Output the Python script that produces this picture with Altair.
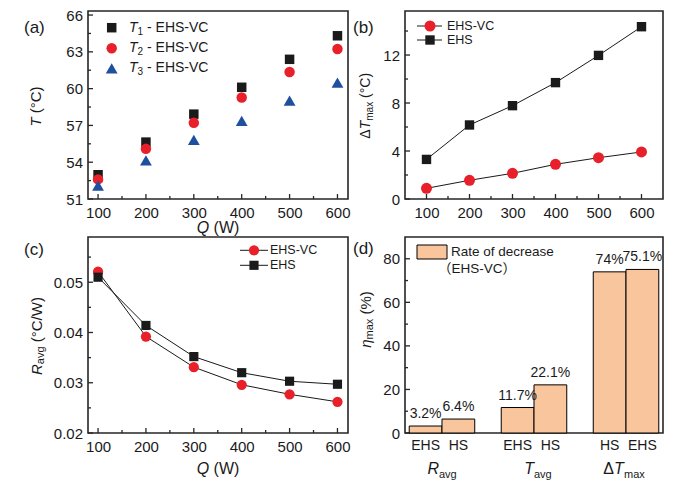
import altair as alt
import pandas as pd

# ---------------- data ----------------
Q = [100, 200, 300, 400, 500, 600]
Q_MINOR = [150, 250, 350, 450, 550]

T1_VC = [52.98, 55.64, 57.92, 60.11, 62.39, 64.31]
T2_VC = [52.60, 55.09, 57.21, 59.27, 61.36, 63.23]
T3_VC = [52.10, 54.14, 55.83, 57.37, 59.02, 60.49]

DT_VC = [0.89, 1.56, 2.14, 2.89, 3.44, 3.92]
DT_EHS = [3.30, 6.17, 7.78, 9.70, 11.97, 14.36]

R_VC = [0.0521, 0.0392, 0.0331, 0.0296, 0.0277, 0.0262]
R_EHS = [0.0510, 0.0414, 0.0352, 0.0320, 0.0303, 0.0297]

BAR_GROUP = ["Ravg", "Ravg", "Tavg", "Tavg", "DTmax", "DTmax"]
BAR_SLOT = ["1", "2", "1", "2", "1", "2"]
BAR_NAME = ["EHS", "HS", "EHS", "HS", "HS", "EHS"]
BAR_VAL = [3.2, 6.4, 11.7, 22.1, 74.0, 75.1]
BAR_TXT = ["3.2%", "6.4%", "11.7%", "22.1%", "74%", "75.1%"]
GROUPS = ["Ravg", "Tavg", "DTmax"]

A_Y = [51, 54, 57, 60, 63, 66]
A_YM = [52.5, 55.5, 58.5, 61.5, 64.5]
B_Y = [0, 4, 8, 12]
B_YM = [2, 6, 10, 14]
C_Y = [0.02, 0.03, 0.04, 0.05]
C_YM = [0.025, 0.035, 0.045, 0.055]
D_Y = [0, 20, 40, 60, 80]
D_YM = [10, 30, 50, 70]

# ---------------- style ----------------
FONT = "Liberation Sans, Arial, Helvetica, sans-serif"
CJK = "Liberation Sans, Noto Sans CJK SC, sans-serif"
INK = "#1a1a1a"
AX = "#262626"
RED = "#e8202a"
BLUE = "#1f4f9f"
PEACH = "#f9c59c"

W1, W2 = 260, 258
H1, H2 = 188, 196

EM = {" ": .278, "(": .333, ")": .333, "°": .4, "C": .722, "W": .944, "/": .278,
      "%": .889, "T": .611, "R": .722, "Q": .778, "Δ": .668, "η": .556, "a": .556,
      "v": .5, "g": .556, "m": .833, "x": .5, "1": .556, "2": .556, "3": .556,
      "-": .333, "E": .667, "H": .722, "S": .667, "V": .667}


def tw(s, size):
    return sum(EM.get(c, .556) for c in s) * size


def label(s, x, y, size, italic=False, angle=0, align="left", baseline="middle",
          dx=0, dy=0, font=FONT):
    props = dict(font=font, fontSize=size, align=align, baseline=baseline, color=INK)
    if italic:
        props["fontStyle"] = "italic"
    if angle:
        props["angle"] = angle
    if dx:
        props["dx"] = dx
    if dy:
        props["dy"] = dy
    return alt.Chart(pd.DataFrame({"t": [s]})).mark_text(**props).encode(
        x=alt.value(x), y=alt.value(y), text="t:N")


def rich(parts, x, y, vertical=False, start=False):
    total = sum(tw(p[0], p[1]) for p in parts)
    out, cum = [], 0.0
    for s, size, it, sh in parts:
        lead = len(s) - len(s.lstrip(" "))
        off = cum + tw(" " * lead, size)
        body = s.lstrip(" ")
        if vertical:
            out.append(label(body, x, y + total / 2, size, it, angle=270,
                             dx=round(off, 1), dy=sh))
        else:
            x0 = x if start else x - total / 2
            out.append(label(body, x0, y, size, it, dx=round(off, 1), dy=sh))
        cum += tw(s, size)
    return out


def ticks_y(vals, scale, length, xax, yax):
    return alt.Chart(pd.DataFrame({"v": vals})).mark_rule(color=AX, strokeWidth=1.3).encode(
        y=alt.Y("v:Q", scale=scale, axis=yax), x=alt.value(0), x2=alt.value(length))


def ticks_x(vals, scale, length, h, xax):
    return alt.Chart(pd.DataFrame({"v": vals})).mark_rule(color=AX, strokeWidth=1.3).encode(
        x=alt.X("v:Q", scale=scale, axis=xax), y=alt.value(h), y2=alt.value(h - length))


def pts(xs, ys, xs_scale, ys_scale, shape, color, size, xax, yax):
    return alt.Chart(pd.DataFrame({"q": xs, "v": ys})).mark_point(
        shape=shape, filled=True, size=size, color=color, opacity=1, strokeWidth=0).encode(
        x=alt.X("q:Q", scale=xs_scale, axis=xax),
        y=alt.Y("v:Q", scale=ys_scale, axis=yax))


def line(xs, ys, xs_scale, ys_scale, xax, yax):
    return alt.Chart(pd.DataFrame({"q": xs, "v": ys})).mark_line(color=INK, strokeWidth=1).encode(
        x=alt.X("q:Q", scale=xs_scale, axis=xax),
        y=alt.Y("v:Q", scale=ys_scale, axis=yax))


def sym(x, y, shape, color, size):
    return alt.Chart(pd.DataFrame({"t": [0]})).mark_point(
        shape=shape, filled=True, size=size, color=color, opacity=1, strokeWidth=0).encode(
        x=alt.value(x), y=alt.value(y))


def seg(x1, x2, y):
    return alt.Chart(pd.DataFrame({"t": [0]})).mark_rule(color=INK, strokeWidth=1).encode(
        x=alt.value(x1), x2=alt.value(x2), y=alt.value(y))


QAX = alt.Axis(values=Q, title=None, format="d")

# ---------------- panel (a) ----------------
XA = alt.Scale(domain=[79, 622], nice=False, zero=False)
YA = alt.Scale(domain=[51, 66.33], nice=False, zero=False)
YAX_A = alt.Axis(values=A_Y, title=None, format="d")
layers_a = [
    ticks_y(A_Y, YA, 5, QAX, YAX_A), ticks_y(A_YM, YA, 3, QAX, YAX_A),
    ticks_x(Q, XA, 5, H1, QAX), ticks_x(Q_MINOR, XA, 3, H1, QAX),
    pts(Q, T1_VC, XA, YA, "square", INK, 90, QAX, YAX_A),
    pts(Q, T2_VC, XA, YA, "circle", RED, 110, QAX, YAX_A),
    pts(Q, T3_VC, XA, YA, "triangle-up", BLUE, 140, QAX, YAX_A),
    sym(23.7, 16.7, "square", INK, 90),
    sym(23.7, 37.3, "circle", RED, 110),
    sym(23.7, 57.3, "triangle-up", BLUE, 140),
    label("(a)", -64, 17, 17),
]
for i, yy in zip(["1", "2", "3"], [16.7, 37.3, 57.3]):
    layers_a += rich([("T", 14, True, 0), (i, 10, False, 4), (" - EHS-VC", 14, False, 0)],
                     41, yy, start=True)
layers_a += rich([("T", 15, True, 0), (" (°C)", 15, False, 0)], -52, 95.5, vertical=True)
layers_a += rich([("Q", 16, True, 0), (" (W)", 16, False, 0)], W1 / 2, 217)
panel_a = alt.layer(*layers_a).properties(width=W1, height=H1)

# ---------------- panel (b) ----------------
XB = alt.Scale(domain=[50, 650], nice=False, zero=False)
YB = alt.Scale(domain=[0, 15.67], nice=False, zero=False)
YAX_B = alt.Axis(values=B_Y, title=None, format="d")
layers_b = [
    ticks_y(B_Y, YB, 5, QAX, YAX_B), ticks_y(B_YM, YB, 3, QAX, YAX_B),
    ticks_x(Q, XB, 5, H1, QAX), ticks_x(Q_MINOR, XB, 3, H1, QAX),
    line(Q, DT_VC, XB, YB, QAX, YAX_B), line(Q, DT_EHS, XB, YB, QAX, YAX_B),
    pts(Q, DT_VC, XB, YB, "circle", RED, 121, QAX, YAX_B),
    pts(Q, DT_EHS, XB, YB, "square", INK, 88, QAX, YAX_B),
    seg(12, 37, 15), sym(25, 15, "circle", RED, 121),
    seg(12, 37, 29), sym(25, 29, "square", INK, 88),
    label("EHS-VC", 42, 15, 12.5), label("EHS", 42, 29, 12.5),
    label("(b)", -52, 17, 17),
]
layers_b += rich([("Δ", 14, False, 0), ("T", 14, True, 0), ("max", 10, False, 4),
                  (" (°C)", 14, False, 0)], -39, 94.8, vertical=True)
panel_b = alt.layer(*layers_b).properties(width=W2, height=H1)

# ---------------- panel (c) ----------------
XC = alt.Scale(domain=[79, 622], nice=False, zero=False)
YC = alt.Scale(domain=[0.02, 0.059], nice=False, zero=False)
YAX_C = alt.Axis(values=C_Y, title=None, format=".2f")
layers_c = [
    ticks_y(C_Y, YC, 5, QAX, YAX_C), ticks_y(C_YM, YC, 3, QAX, YAX_C),
    ticks_x(Q, XC, 5, H2, QAX), ticks_x(Q_MINOR, XC, 3, H2, QAX),
    line(Q, R_VC, XC, YC, QAX, YAX_C), line(Q, R_EHS, XC, YC, QAX, YAX_C),
    pts(Q, R_VC, XC, YC, "circle", RED, 105, QAX, YAX_C),
    pts(Q, R_EHS, XC, YC, "square", INK, 84, QAX, YAX_C),
    seg(152, 180, 13.3), sym(166, 13.3, "circle", RED, 105),
    seg(152, 180, 28.3), sym(166, 28.3, "square", INK, 84),
    label("EHS-VC", 182, 13.3, 12.5), label("EHS", 182, 28.3, 12.5),
    label("(c)", -64, 13, 17),
]
layers_c += rich([("R", 15, True, 0), ("avg", 11, False, 4), (" (°C/W)", 15, False, 0)],
                 -51, 99, vertical=True)
layers_c += rich([("Q", 16, True, 0), (" (W)", 16, False, 0)], W1 / 2, 232)
panel_c = alt.layer(*layers_c).properties(width=W1, height=H2)

# ---------------- panel (d) ----------------
XD = alt.Scale(type="band", domain=GROUPS, paddingInner=0.288, paddingOuter=0.046)
XO = alt.Scale(domain=["1", "2"])
YD = alt.Scale(domain=[0, 90], nice=False, zero=False)
YAX_D = alt.Axis(values=D_Y, title=None, format="d")
df_d = pd.DataFrame({"g": BAR_GROUP, "s": BAR_SLOT, "n": BAR_NAME, "v": BAR_VAL, "t": BAR_TXT})
bars = alt.Chart(df_d).mark_bar(color=PEACH, stroke="black", strokeWidth=1, opacity=1).encode(
    x=alt.X("g:N", scale=XD, axis=None),
    xOffset=alt.XOffset("s:N", scale=XO),
    y=alt.Y("v:Q", scale=YD, axis=YAX_D))
val_txt = alt.Chart(df_d).mark_text(font=FONT, fontSize=14, color=INK, dy=-12).encode(
    x=alt.X("g:N", scale=XD, axis=None), xOffset=alt.XOffset("s:N", scale=XO),
    y=alt.Y("v:Q", scale=YD, axis=YAX_D), text="t:N")
name_txt = alt.Chart(df_d).mark_text(font=FONT, fontSize=14, color=INK).encode(
    x=alt.X("g:N", scale=XD, axis=None), xOffset=alt.XOffset("s:N", scale=XO),
    y=alt.value(209), text="n:N")


def gpart(g, s, size, italic, align, dx, y):
    props = dict(font=FONT, fontSize=size, color=INK, align=align, baseline="alphabetic", dx=dx)
    if italic:
        props["fontStyle"] = "italic"
    return alt.Chart(pd.DataFrame({"g": [g], "t": [s]})).mark_text(**props).encode(
        x=alt.X("g:N", scale=XD, axis=None), y=alt.value(y), text="t:N")


layers_d = [
    ticks_y(D_Y, YD, 5, None, YAX_D), ticks_y(D_YM, YD, 3, None, YAX_D),
    bars, val_txt, name_txt,
    gpart("Ravg", "R", 16, True, "right", -3, 237),
    gpart("Ravg", "avg", 11, False, "left", -3, 241),
    gpart("Tavg", "T", 16, True, "right", 0, 237),
    gpart("Tavg", "avg", 11, False, "left", 0, 241),
    gpart("DTmax", "Δ", 16, False, "right", -12, 237),
    gpart("DTmax", "T", 16, True, "left", -12, 237),
    gpart("DTmax", "max", 11, False, "left", -2, 241),
    alt.Chart(pd.DataFrame({"t": [0]})).mark_rect(color=PEACH, stroke="black", strokeWidth=1).encode(
        x=alt.value(12), x2=alt.value(42), y=alt.value(8), y2=alt.value(22)),
    label("Rate of decrease", 46, 15, 13.5),
    label("（EHS-VC）", 33, 31.7, 13.5, font=CJK),
    label("(d)", -52, 12, 17),
]
layers_d += rich([("η", 15, True, 0), ("max", 11, False, 4), (" (%)", 15, False, 0)],
                 -39, 82.5, vertical=True)
panel_d = alt.layer(*layers_d).properties(width=W2, height=H2)

# ---------------- layout ----------------
chart = alt.concat(
    panel_a, panel_b, panel_c, panel_d,
    columns=2, bounds="flush", spacing={"row": 38, "column": 57},
).configure(
    padding={"left": 15, "top": -1, "right": 4, "bottom": 0},
    font=FONT,
).configure_view(
    stroke=AX, strokeWidth=1.6,
).configure_axis(
    domain=False, ticks=False, grid=False, labelFont=FONT, labelFontSize=15,
    labelColor=INK, labelFlush=False,
).configure_axisX(labelPadding=6.5).configure_axisY(labelPadding=5.5)

chart.save("out.html", embed_options={"renderer": "svg", "actions": False})
